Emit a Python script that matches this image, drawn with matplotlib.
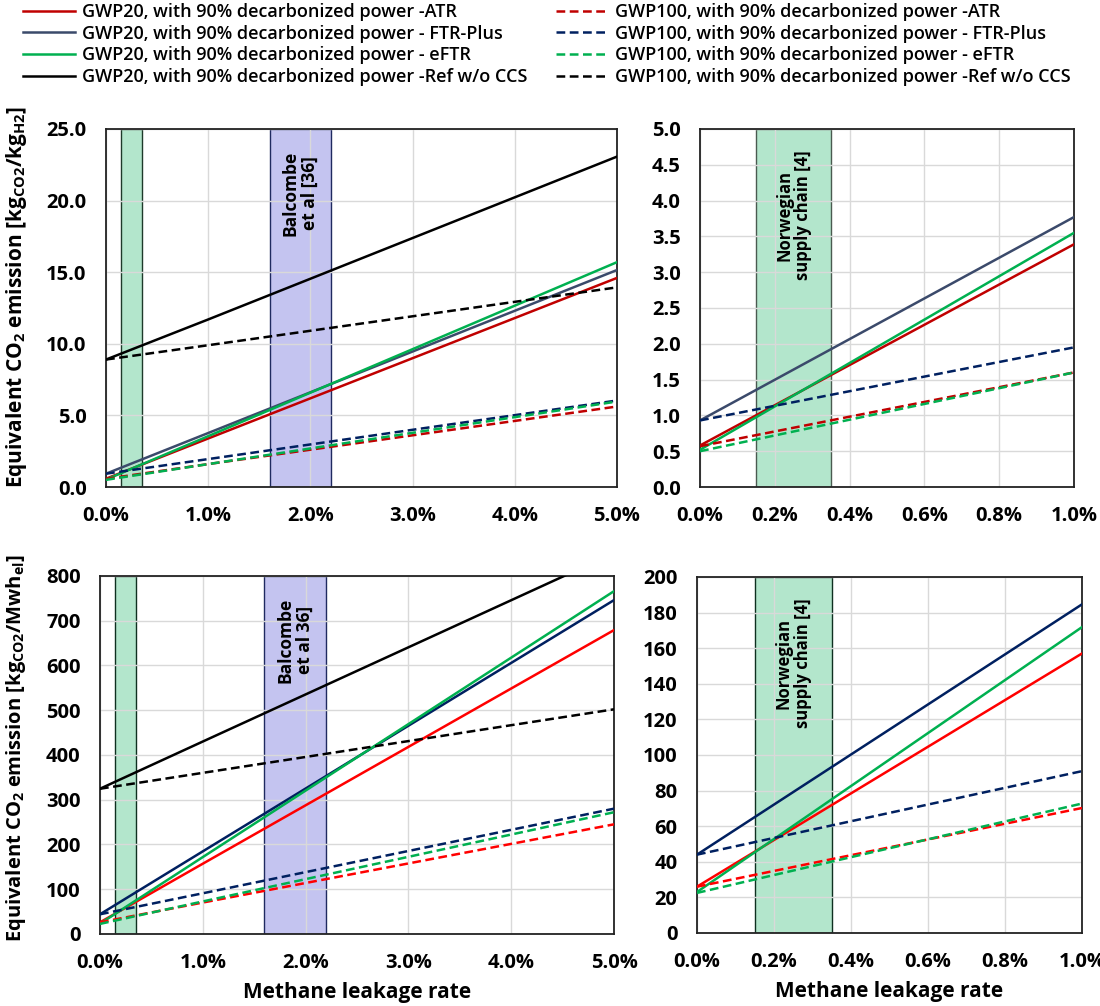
import matplotlib
matplotlib.use("Agg")
import matplotlib.pyplot as plt
from matplotlib.ticker import FuncFormatter, MultipleLocator

plt.rcParams['font.family'] = ['Open Sans', 'DejaVu Sans']
plt.rcParams['mathtext.fontset'] = 'custom'
plt.rcParams['mathtext.bf'] = 'Open Sans:bold'
plt.rcParams['mathtext.rm'] = 'Open Sans:bold'
plt.rcParams['mathtext.default'] = 'bf'

# methane leakage rate [%]
leak_pct = [0.0, 1.0, 5.0]

# kg CO2 / kg H2
h2_gwp20_atr = [0.58, 3.39, 14.6]
h2_gwp20_ftr = [0.93, 3.77, 15.15]
h2_gwp20_eftr = [0.52, 3.55, 15.7]
h2_gwp20_ref = [8.9, 11.7, 23.07]
h2_gwp100_atr = [0.57, 1.60, 5.62]
h2_gwp100_ftr = [0.93, 1.95, 6.04]
h2_gwp100_eftr = [0.50, 1.60, 5.97]
h2_gwp100_ref = [8.9, 9.9, 13.94]

# kg CO2 / MWh el
el_gwp20_atr = [26, 157, 679]
el_gwp20_ftr = [44, 184.6, 746]
el_gwp20_eftr = [23, 171.8, 766]
el_gwp20_ref = [324.5, 430, 851]
el_gwp100_atr = [26, 70.2, 245]
el_gwp100_ftr = [44, 90.9, 280]
el_gwp100_eftr = [22.5, 72.7, 272]
el_gwp100_ref = [324.5, 360, 502]

norway_band = (0.15, 0.35)
balcombe_band = (1.6, 2.2)

labels20 = ["GWP20, with 90% decarbonized power -ATR",
            "GWP20, with 90% decarbonized power - FTR-Plus",
            "GWP20, with 90% decarbonized power - eFTR",
            "GWP20, with 90% decarbonized power -Ref w/o CCS"]
labels100 = ["GWP100, with 90% decarbonized power -ATR",
             "GWP100, with 90% decarbonized power - FTR-Plus",
             "GWP100, with 90% decarbonized power - eFTR",
             "GWP100, with 90% decarbonized power -Ref w/o CCS"]

dash = (0, (3.5, 1.8))
lw = 1.8

fig = plt.figure(figsize=(11, 10.06), dpi=100)
ax_tl = fig.add_axes([0.0964, 0.5159, 0.4645, 0.3559])
ax_tr = fig.add_axes([0.6364, 0.5159, 0.3400, 0.3559])
ax_bl = fig.add_axes([0.0909, 0.0716, 0.4673, 0.3559])
ax_br = fig.add_axes([0.6336, 0.0726, 0.3500, 0.3539])


def draw(ax, g20, g100, cols20, cols100):
    handles = []
    for y, c, lab in zip(g20, cols20, labels20):
        h, = ax.plot(leak_pct, y, color=c, lw=lw, label=lab, zorder=3)
        handles.append(h)
    for y, c, lab in zip(g100, cols100, labels100):
        h, = ax.plot(leak_pct, y, color=c, lw=lw, ls=dash, label=lab, zorder=3)
        handles.append(h)
    return handles


def style(ax, xmax, xstep, ymax, ystep, yfmt):
    ax.set_xlim(0, xmax)
    ax.set_ylim(0, ymax)
    ax.xaxis.set_major_locator(MultipleLocator(xstep))
    ax.yaxis.set_major_locator(MultipleLocator(ystep))
    ax.xaxis.set_major_formatter(FuncFormatter(lambda v, p: f"{v:.1f}%"))
    ax.yaxis.set_major_formatter(FuncFormatter(lambda v, p: yfmt.format(v)))
    ax.set_axisbelow(True)
    ax.grid(True, color='#D9D9D9', lw=1.0)
    ax.tick_params(length=0, labelsize=14.5, pad=14)
    for t in ax.get_xticklabels() + ax.get_yticklabels():
        t.set_fontweight('bold')
    for s in ax.spines.values():
        s.set_color('#222222')
        s.set_linewidth(1.3)


def band(ax, rng, face, edge):
    ax.axvspan(rng[0], rng[1], facecolor=face, edgecolor=edge, lw=1.0, zorder=0.3)


def band_text(ax, x, txt, size):
    ax.text(x, 0.94, txt, transform=ax.get_xaxis_transform(), rotation=90,
            ha='center', va='top', multialignment='center', fontsize=size,
            fontweight='bold', linespacing=1.05, zorder=4)


green_band = '#B3E6CC'
purple_band = '#C4C4F0'

# top row: per kg H2
top20 = ['#C00000', '#3B4A6B', '#00B050', '#000000']
top100 = ['#C00000', '#002060', '#00B050', '#000000']
handles = draw(ax_tl, [h2_gwp20_atr, h2_gwp20_ftr, h2_gwp20_eftr, h2_gwp20_ref],
               [h2_gwp100_atr, h2_gwp100_ftr, h2_gwp100_eftr, h2_gwp100_ref], top20, top100)
band(ax_tl, norway_band, green_band, '#1E3A2A')
band(ax_tl, balcombe_band, purple_band, '#1F2A60')
band_text(ax_tl, sum(balcombe_band) / 2, "Balcombe\net al [36]", 12.5)
style(ax_tl, 5, 1, 25, 5, "{:.1f}")

draw(ax_tr, [h2_gwp20_atr, h2_gwp20_ftr, h2_gwp20_eftr, h2_gwp20_ref],
     [h2_gwp100_atr, h2_gwp100_ftr, h2_gwp100_eftr, h2_gwp100_ref], top20, top100)
band(ax_tr, norway_band, green_band, '#4A5A50')
band_text(ax_tr, sum(norway_band) / 2, "Norwegian\nsupply chain [4]", 12)
style(ax_tr, 1, 0.2, 5, 0.5, "{:.1f}")

# bottom row: per MWh electricity
bot20 = ['#FF0000', '#002060', '#00B050', '#000000']
bot100 = ['#FF0000', '#002060', '#00B050', '#000000']
draw(ax_bl, [el_gwp20_atr, el_gwp20_ftr, el_gwp20_eftr, el_gwp20_ref],
     [el_gwp100_atr, el_gwp100_ftr, el_gwp100_eftr, el_gwp100_ref], bot20, bot100)
band(ax_bl, norway_band, green_band, '#0F3020')
band(ax_bl, balcombe_band, purple_band, '#1F2A60')
band_text(ax_bl, sum(balcombe_band) / 2, "Balcombe\net al 36]", 12.5)
style(ax_bl, 5, 1, 800, 100, "{:.0f}")

draw(ax_br, [el_gwp20_atr, el_gwp20_ftr, el_gwp20_eftr, el_gwp20_ref],
     [el_gwp100_atr, el_gwp100_ftr, el_gwp100_eftr, el_gwp100_ref], bot20, bot100)
band(ax_br, norway_band, green_band, '#0F3020')
band_text(ax_br, sum(norway_band) / 2, "Norwegian\nsupply chain [4]", 12)
style(ax_br, 1, 0.2, 200, 20, "{:.0f}")

ax_tl.set_ylabel(r"Equivalent CO$_2$ emission [kg$_{CO2}$/kg$_{H2}$]",
                 fontsize=15, fontweight='bold')
ax_tl.yaxis.set_label_coords(-0.15, 0.53)
ax_bl.set_ylabel(r"Equivalent CO$_2$ emission [kg$_{CO2}$/Mwh$_{el}$]",
                 fontsize=14.5, fontweight='bold')
ax_bl.yaxis.set_label_coords(-0.14, 0.52)
for ax in (ax_bl, ax_br):
    ax.set_xlabel("Methane leakage rate", fontsize=15, fontweight='bold', labelpad=6)

fig.legend(handles=handles, loc='upper center', bbox_to_anchor=(0.497, 1.013), ncol=2,
           frameon=False, handlelength=2.9, columnspacing=1.6,
           labelspacing=0.2, handletextpad=0.35,
           prop={'weight': 'semibold', 'size': 13})

fig.savefig("out.png", dpi=100)
